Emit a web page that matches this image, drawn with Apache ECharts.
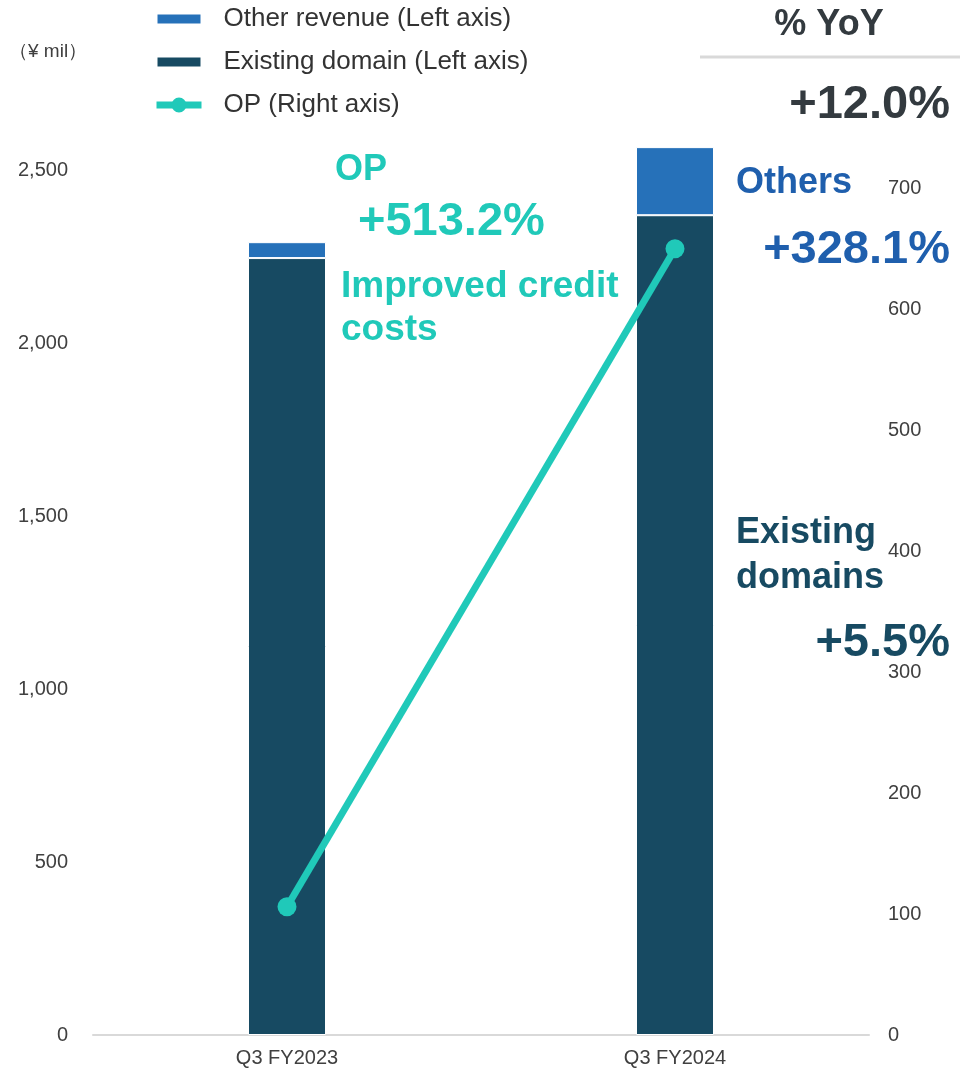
<!DOCTYPE html>
<html>
<head>
<meta charset="utf-8">
<title>Revenue and OP</title>
<script src="https://cdn.jsdelivr.net/npm/echarts@6/dist/echarts.min.js"></script>
<style>
  html, body { margin: 0; padding: 0; background: #ffffff; }
  #chart { width: 971px; height: 1070px; }
</style>
</head>
<body>
<div id="chart"></div>
<script>
// Quarterly figures (¥ mil)
const categories = ['Q3 FY2023', 'Q3 FY2024'];
const existingDomain = [2248, 2372];   // left axis
const otherRevenue = [46, 197];        // left axis
const operatingProfit = [106, 650];    // right axis

const leftTicks = [0, 500, 1000, 1500, 2000, 2500];
const rightTicks = [0, 100, 200, 300, 400, 500, 600, 700];

const C_EXIST = '#174a62';
const C_OTHER = '#2671b9';
const C_OP = '#20c9b9';
const C_OTHER_TXT = '#1f5fad';
const C_AXIS_TXT = '#404040';
const FONT = '"Liberation Sans", Arial, sans-serif';

const chart = echarts.init(document.getElementById('chart'), null, { renderer: 'canvas' });

function boldText(text, x, y, size, color, align) {
  return {
    type: 'text', x: x, y: y, z: 100,
    style: {
      text: text, fill: color, fontFamily: FONT, fontWeight: 'bold',
      fontSize: size, align: align || 'left', verticalAlign: 'middle'
    }
  };
}

chart.setOption({
  animation: false,
  backgroundColor: '#ffffff',
  textStyle: { fontFamily: FONT },
  grid: { left: 93, right: 102, top: 67.3, bottom: 35 },
  legend: {
    orient: 'vertical',
    left: 153,
    top: 6,
    padding: 0,
    itemWidth: 45,
    itemHeight: 11,
    itemGap: 17,
    selectedMode: false,
    textStyle: { fontSize: 26, color: '#333333', lineHeight: 26, padding: [0, 0, 0, 17] },
    data: [
      { name: 'Other revenue (Left axis)', icon: 'rect' },
      { name: 'Existing domain (Left axis)', icon: 'rect' },
      {
        name: 'OP (Right axis)',
        lineStyle: { width: 7, color: C_OP },
        itemStyle: { color: C_OP, borderColor: C_OP, borderWidth: 6 }
      }
    ]
  },
  xAxis: {
    type: 'category',
    data: categories,
    axisLine: { lineStyle: { color: '#d9d9d9', width: 2 } },
    axisTick: { show: false },
    axisLabel: { color: C_AXIS_TXT, fontSize: 20, margin: 13 }
  },
  yAxis: [
    {
      type: 'value', min: 0, max: 2800, interval: 500,
      axisLine: { show: false }, axisTick: { show: false },
      splitLine: { show: false },
      axisLabel: {
        color: C_AXIS_TXT, fontSize: 20, margin: 25,
        formatter: function (v) { return leftTicks.indexOf(v) >= 0 ? v.toLocaleString('en-US') : ''; }
      }
    },
    {
      type: 'value', min: 0, max: 800, interval: 100,
      axisLine: { show: false }, axisTick: { show: false },
      splitLine: { show: false },
      axisLabel: {
        color: C_AXIS_TXT, fontSize: 20, margin: 19,
        formatter: function (v) { return rightTicks.indexOf(v) >= 0 ? String(v) : ''; }
      }
    }
  ],
  series: [
    {
      name: 'Existing domain (Left axis)', type: 'bar', stack: 'rev', yAxisIndex: 0,
      barWidth: 78, data: existingDomain,
      itemStyle: { color: C_EXIST, borderColor: '#ffffff', borderWidth: 1 }
    },
    {
      name: 'Other revenue (Left axis)', type: 'bar', stack: 'rev', yAxisIndex: 0,
      barWidth: 78, data: otherRevenue,
      itemStyle: { color: C_OTHER, borderColor: '#ffffff', borderWidth: 1 }
    },
    {
      name: 'OP (Right axis)', type: 'line', yAxisIndex: 1, data: operatingProfit,
      symbol: 'circle', symbolSize: 19, z: 10,
      lineStyle: { color: C_OP, width: 7 },
      itemStyle: { color: C_OP }
    }
  ],
  graphic: [
    { type: 'text', x: 9, y: 52, style: { text: '（¥ mil）', fill: C_AXIS_TXT, fontFamily: FONT, fontSize: 19, verticalAlign: 'middle' } },
    boldText('% YoY', 829, 25, 36, '#333a3f', 'center'),
    { type: 'rect', shape: { x: 700, y: 55.5, width: 260, height: 3 }, style: { fill: '#d9d9d9' } },
    boldText('+12.0%', 950, 105, 47, '#333a3f', 'right'),
    boldText('OP', 335, 170, 36, C_OP),
    boldText('+513.2%', 358, 222, 47, C_OP),
    boldText('Improved credit', 341, 287, 37, C_OP),
    boldText('costs', 341, 330, 37, C_OP),
    boldText('Others', 736, 183, 36, C_OTHER_TXT),
    boldText('+328.1%', 950, 250, 47, C_OTHER_TXT, 'right'),
    boldText('Existing', 736, 533, 36, C_EXIST),
    boldText('domains', 736, 578, 36, C_EXIST),
    boldText('+5.5%', 950, 643, 47, C_EXIST, 'right')
  ]
});
</script>
</body>
</html>
